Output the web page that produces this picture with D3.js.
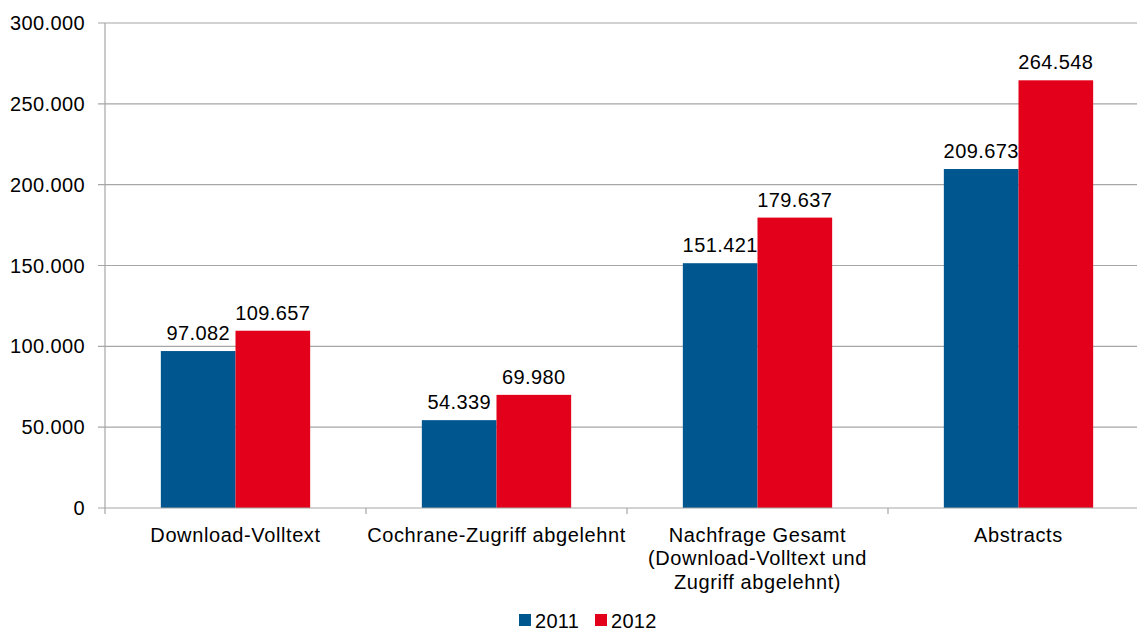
<!DOCTYPE html>
<html lang="de">
<head>
<meta charset="utf-8">
<title>Nutzung</title>
<script src="https://d3js.org/d3.v7.min.js"></script>
<style>
  body { margin: 0; background: #fff; }
  text { font-family: "Liberation Sans", Arial, sans-serif; fill: #000; }
</style>
</head>
<body>
<svg width="1137" height="631"></svg>
<script>
const categories = [
  ["Download-Volltext"],
  ["Cochrane-Zugriff abgelehnt"],
  ["Nachfrage Gesamt", "(Download-Volltext und", "Zugriff abgelehnt)"],
  ["Abstracts"]
];
const series = ["2011", "2012"];
const values2011 = [97082, 54339, 151421, 209673];
const values2012 = [109657, 69980, 179637, 264548];
const yTicks = [0, 50000, 100000, 150000, 200000, 250000, 300000];
const colors = ["#00568e", "#e2001a"];

const svg = d3.select("svg");
const plotLeft = 105, plotTop = 23, plotBottom = 508, band = 261;

const x = d3.scaleBand()
  .domain(d3.range(categories.length))
  .range([plotLeft, plotLeft + band * categories.length])
  .paddingInner(0).paddingOuter(0);

const y = d3.scaleLinear().domain([0, 300000]).range([plotBottom, plotTop]);

const fmt = v => v === 0 ? "0" : d3.format(",")(v).replace(/,/g, ".");

// gridlines
svg.append("g").selectAll("line").data(yTicks.filter(d => d > 0)).join("line")
  .attr("x1", plotLeft - 7).attr("x2", 1137)
  .attr("y1", d => y(d)).attr("y2", d => y(d))
  .attr("stroke", "#a6a6a6").attr("stroke-width", 1.2);

// y tick labels
svg.append("g").selectAll("text").data(yTicks).join("text")
  .attr("x", 85).attr("y", d => y(d) + 7)
  .attr("text-anchor", "end").attr("font-size", 20).attr("letter-spacing", 0.4)
  .text(fmt);

const inner = d3.scaleBand().domain(series).range([0, band]).paddingInner(0).paddingOuter(0.748);
const table = [values2011, values2012];

series.forEach((s, si) => {
  const g = svg.append("g");
  g.selectAll("rect").data(table[si]).join("rect")
    .attr("x", (d, i) => x(i) + inner(s))
    .attr("width", inner.bandwidth())
    .attr("y", d => y(d))
    .attr("height", d => plotBottom - y(d))
    .attr("fill", colors[si]);
  g.selectAll("text").data(table[si]).join("text")
    .attr("x", (d, i) => x(i) + inner(s) + inner.bandwidth() / 2)
    .attr("y", d => y(d) - 11)
    .attr("text-anchor", "middle").attr("font-size", 20).attr("letter-spacing", 0.4)
    .text(fmt);
});

// axes lines
svg.append("line").attr("x1", plotLeft - 7).attr("x2", 1137).attr("y1", plotBottom).attr("y2", plotBottom)
  .attr("stroke", "#a6a6a6").attr("stroke-width", 1.2);
svg.append("line").attr("x1", plotLeft).attr("x2", plotLeft).attr("y1", plotTop).attr("y2", plotBottom + 6)
  .attr("stroke", "#a6a6a6").attr("stroke-width", 1.2);
svg.append("g").selectAll("line").data(d3.range(1, categories.length)).join("line")
  .attr("x1", i => x(i)).attr("x2", i => x(i))
  .attr("y1", plotBottom).attr("y2", plotBottom + 6)
  .attr("stroke", "#a6a6a6").attr("stroke-width", 1.2);

// category labels
const cl = svg.append("g").selectAll("text").data(categories).join("text")
  .attr("text-anchor", "middle").attr("font-size", 20).attr("letter-spacing", 0.6)
  .attr("x", (d, i) => x(i) + band / 2).attr("y", 541.5);
cl.selectAll("tspan").data(d => d).join("tspan")
  .attr("x", function() { return this.parentNode.getAttribute("x"); })
  .attr("dy", (d, i) => i === 0 ? 0 : 23.5)
  .text(d => d);

// legend
const legend = svg.append("g");
const lx = [519, 595];
series.forEach((s, i) => {
  legend.append("rect").attr("x", lx[i]).attr("y", 614).attr("width", 12).attr("height", 12).attr("fill", colors[i]);
  legend.append("text").attr("x", lx[i] + 16).attr("y", 628).attr("font-size", 20).attr("letter-spacing", 0.3).text(s);
});
</script>
</body>
</html>
